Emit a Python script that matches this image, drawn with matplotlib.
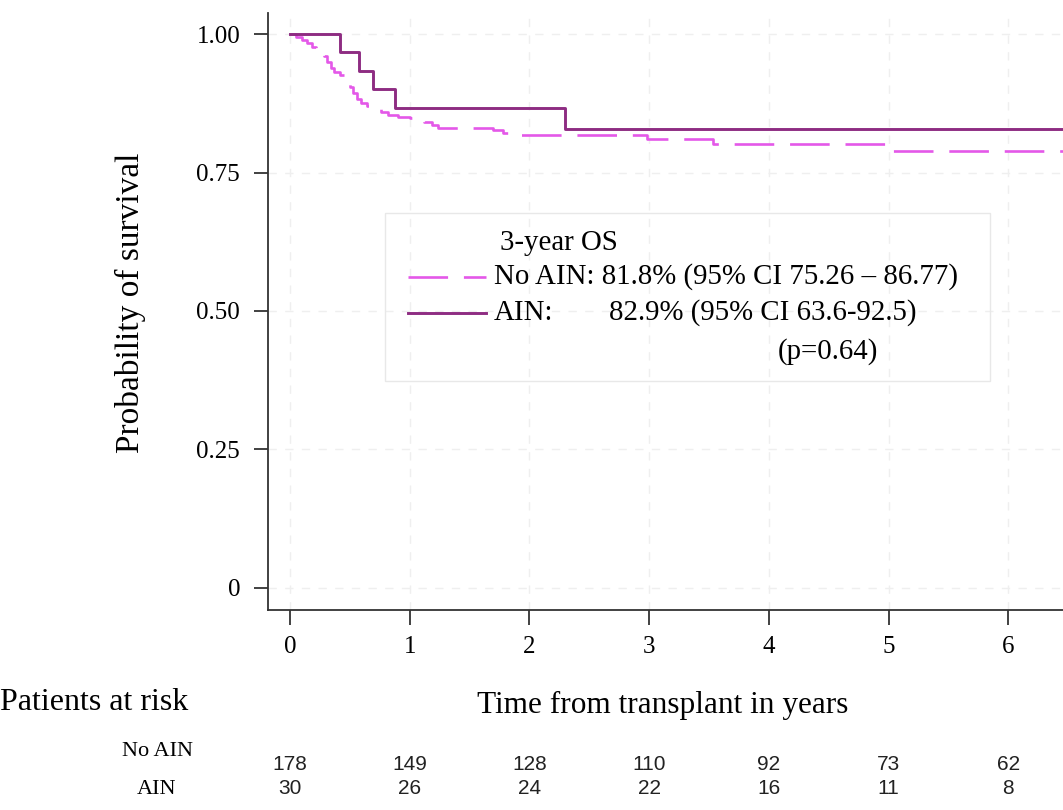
import matplotlib
matplotlib.use("Agg")
import matplotlib.pyplot as plt
from matplotlib.lines import Line2D
from matplotlib.patches import Rectangle
from matplotlib.transforms import blended_transform_factory

# ----------------------------
# Data
# ----------------------------
noain_t = [0, 0.05, 0.10, 0.14, 0.18, 0.22, 0.25, 0.28, 0.31, 0.34, 0.37, 0.42,
           0.46, 0.50, 0.53, 0.56, 0.59, 0.64, 0.70, 0.76, 0.82, 0.90, 1.00,
           1.12, 1.19, 1.24, 1.29, 1.70, 1.78, 1.88, 2.98, 3.53, 4.99, 6.6]
noain_s = [1.0, 0.994, 0.989, 0.983, 0.977, 0.972, 0.966, 0.960, 0.949, 0.938,
           0.932, 0.926, 0.915, 0.904, 0.893, 0.882, 0.876, 0.870, 0.865, 0.859,
           0.854, 0.851, 0.848, 0.842, 0.836, 0.831, 0.830, 0.826, 0.821, 0.817,
           0.810, 0.801, 0.789, 0.789]

ain_t = [0, 0.42, 0.58, 0.69, 0.88, 2.30, 6.6]
ain_s = [1.0, 0.967, 0.933, 0.900, 0.867, 0.829, 0.829]

years = [0, 1, 2, 3, 4, 5, 6]
risk_noain = [178, 149, 128, 110, 92, 73, 62]
risk_ain = [30, 26, 24, 22, 16, 11, 8]

yticks = [0, 0.25, 0.50, 0.75, 1.00]
ytick_labels = ["0", "0.25", "0.50", "0.75", "1.00"]

c_noain = "#E458E8"
c_ain = "#8E2C82"

serif = ["Liberation Serif", "DejaVu Serif"]
narrow = ["Liberation Sans Narrow", "Liberation Sans", "DejaVu Sans"]
plt.rcParams["font.family"] = serif

W, H = 1063, 810
fig = plt.figure(figsize=(W / 100, H / 100), dpi=100)


def fx(px):
    return px / W


def fy(py):
    return 1 - py / H


ax = fig.add_axes([fx(268), fy(610), fx(W - 268), (610 - 13) / H])

ax.set_xlim(-22 / 119.7, (W - 290) / 119.7)
ax.set_ylim(-22 / 553, 1 + 21 / 553)

# grid
for x in years:
    ax.axvline(x, color="#efefef", lw=1.0, ls=(0, (6, 6)), zorder=0)
for y in yticks:
    ax.axhline(y, color="#efefef", lw=1.0, ls=(0, (6, 6)), zorder=0)

ax.plot(noain_t, noain_s, drawstyle="steps-post", color=c_noain, lw=1.9,
        dashes=(15, 6), zorder=3)
ax.plot(ain_t, ain_s, drawstyle="steps-post", color=c_ain, lw=2.1, zorder=4)

for s in ["top", "right"]:
    ax.spines[s].set_visible(False)
for s in ["left", "bottom"]:
    ax.spines[s].set_color("#333333")
    ax.spines[s].set_linewidth(1.3)

ax.set_yticks(yticks)
ax.set_yticklabels(ytick_labels)
ax.set_xticks(years)
ax.set_xticklabels([str(y) for y in years])
ax.tick_params(axis="y", length=10, width=1.3, color="#333333", pad=10,
               labelsize=18)
ax.tick_params(axis="x", length=11, width=1.3, color="#333333", pad=8,
               labelsize=18)

fig.text(fx(130), fy(303), "Probability of survival", rotation=90,
         ha="center", va="center", fontsize=24)
fig.text(fx(663), fy(705), "Time from transplant in years",
         ha="center", va="center", fontsize=22.5)
fig.text(fx(0), fy(703), "Patients at risk", ha="left", va="center",
         fontsize=23)

# legend box (drawn by hand to follow the reference layout)
fig.patches.append(Rectangle((fx(385), fy(381)), fx(990 - 385), (381 - 213) / H,
                             transform=fig.transFigure, fill=False,
                             edgecolor="#e8e8e8", lw=1.0))
fs_leg = 20.8
fig.text(fx(500), fy(243), "3-year OS", ha="left", va="center", fontsize=fs_leg)
fig.lines.append(Line2D([fx(408), fx(486)], [fy(277), fy(277)],
                        transform=fig.transFigure, color=c_noain, lw=1.9,
                        dashes=(15, 6)))
fig.lines.append(Line2D([fx(408), fx(486)], [fy(313), fy(313)],
                        transform=fig.transFigure, color=c_ain, lw=2.1))
fig.text(fx(494), fy(277), "No AIN: 81.8% (95% CI 75.26 \u2013 86.77)",
         ha="left", va="center", fontsize=fs_leg)
fig.text(fx(494), fy(313), "AIN:", ha="left", va="center", fontsize=fs_leg)
fig.text(fx(609), fy(313), "82.9% (95% CI 63.6-92.5)", ha="left",
         va="center", fontsize=fs_leg)
fig.text(fx(778), fy(352), "(p=0.64)", ha="left", va="center", fontsize=fs_leg)

# risk table
tr = blended_transform_factory(ax.transData, fig.transFigure)
fig.text(fx(157), fy(752), "No AIN", ha="center", va="center", fontsize=16)
fig.text(fx(157), fy(789), "AIN", ha="center", va="center", fontsize=16)
for x, a, b in zip(years, risk_noain, risk_ain):
    fig.text(x, fy(764), str(a), transform=tr, ha="center", va="center",
             fontsize=15, family=narrow, color="#222222")
    fig.text(x, fy(788), str(b), transform=tr, ha="center", va="center",
             fontsize=15, family=narrow, color="#222222")

fig.savefig("out.png", dpi=100)
